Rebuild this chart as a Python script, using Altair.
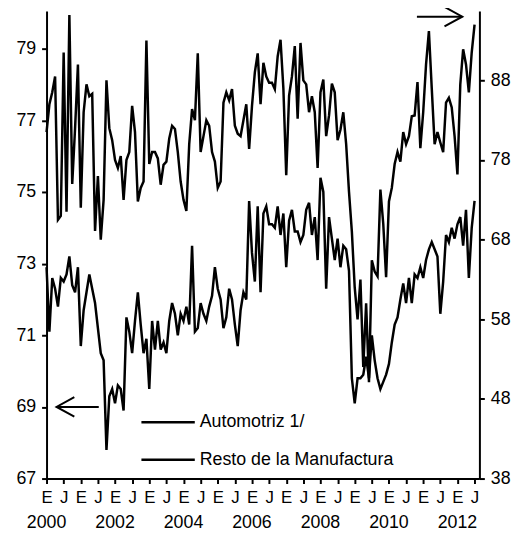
import altair as alt
import pandas as pd

FONT = "Liberation Sans"

# Monthly series, Jan 2000 (index 0) .. Jul 2012 (index 150)
resto = [
    72.9, 71.1, 72.6, 72.3, 71.8, 72.6, 72.5, 72.7, 73.2, 72.4, 72.2, 72.9,
    70.7, 71.7, 72.2, 72.7, 72.3, 71.9, 71.2, 70.5, 70.3, 67.8, 69.3, 69.5,
    69.1, 69.6, 69.5, 68.9, 71.5, 71.1, 70.5, 71.4, 72.2, 71.3, 70.5, 70.9,
    69.5, 71.4, 70.6, 71.4, 70.6, 70.8, 70.5, 71.4, 71.9, 71.6, 71.0, 71.6,
    71.4, 71.8, 71.3, 73.5, 71.1, 71.2, 71.9, 71.6, 71.4, 71.8, 72.1, 72.9,
    72.3, 72.0, 71.2, 71.5, 72.3, 72.0, 71.3, 70.7, 71.7, 72.2, 72.0, 74.75,
    73.3, 72.5, 74.6, 72.2, 74.4, 74.6, 74.1, 74.1, 74.0, 74.6, 73.8, 74.4,
    72.9, 74.2, 74.5, 73.9, 73.9, 73.6, 73.8, 74.5, 74.7, 73.8, 74.3, 73.1,
    75.4, 75.0, 72.3, 74.3, 73.7, 73.1, 73.7, 72.9, 73.5, 73.4, 72.8, 69.8,
    69.1, 69.8, 69.8, 69.9, 70.4, 69.8, 71.0, 70.3, 69.8, 69.5, 69.7, 69.9,
    70.2, 70.8, 71.3, 71.5, 72.0, 72.45, 71.9, 72.6, 71.9, 72.7, 72.6, 72.9,
    72.6, 73.1, 73.4, 73.6, 73.4, 73.2, 71.6, 72.5, 73.8, 73.6, 74.0, 73.7,
    74.1, 74.3, 73.5, 74.5, 72.6, 74.0, 74.75,
]

automotriz = [
    81.5, 85.0, 86.5, 88.5, 70.5, 71.0, 91.5, 71.5, 96.2, 75.0, 82.0, 90.0,
    72.0, 84.0, 87.5, 86.0, 86.3, 69.1, 76.0, 68.0, 73.0, 88.0, 82.0, 80.5,
    78.0, 77.0, 78.5, 73.0, 78.0, 79.0, 84.8, 81.5, 72.8, 74.5, 75.3, 93.0,
    77.5, 79.0, 79.0, 78.2, 74.9, 77.4, 77.8, 80.7, 82.3, 81.9, 79.0, 75.3,
    73.0, 71.6, 80.0, 84.4, 83.0, 91.4, 79.0, 81.0, 83.0, 82.3, 79.0, 77.8,
    74.5, 75.3, 85.2, 86.5, 85.5, 86.9, 82.3, 81.3, 81.0, 83.0, 85.0, 79.4,
    84.8, 89.0, 91.4, 85.0, 90.2, 88.5, 87.7, 87.7, 86.9, 91.0, 93.1, 87.0,
    76.1, 86.1, 88.5, 92.3, 83.2, 92.7, 88.0, 87.5, 84.0, 86.0, 84.0, 77.0,
    86.5, 88.1, 81.0, 83.6, 87.6, 86.5, 80.5, 81.8, 84.0, 80.0, 74.0, 69.0,
    62.0, 58.0, 63.0, 52.0, 60.0, 50.1, 65.4, 64.0, 63.4, 74.3, 70.0, 63.3,
    72.8, 74.5, 77.5, 79.0, 77.8, 81.5, 80.0, 81.0, 83.5, 83.6, 87.8, 79.5,
    84.0, 90.0, 94.2, 87.0, 80.0, 81.5, 80.2, 79.0, 85.2, 85.8, 84.6, 81.0,
    76.2, 87.5, 91.9, 90.0, 86.5, 91.5, 95.0,
]

years = [2000, 2002, 2004, 2006, 2008, 2010, 2012]
left_ticks = [67, 69, 71, 73, 75, 77, 79]
right_ticks = [38, 48, 58, 68, 78, 88]
month_ticks = list(range(0, 151, 6))
legend_labels = ["Automotriz 1/", "Resto de la Manufactura"]

df_resto = pd.DataFrame({"m": list(range(len(resto))), "v": resto})
df_auto = pd.DataFrame({"m": list(range(len(automotriz))), "r": automotriz})
df_years = pd.DataFrame({"m": [(y - 2000) * 12 for y in years], "label": [str(y) for y in years]})
df_left_arrow = pd.DataFrame({"m": [3.5], "m2": [18.3], "v": [69.0]})
df_right_arrow = pd.DataFrame({"m": [145.7], "m2": [129.8], "r": [96.0]})
df_legend = pd.DataFrame({"label": legend_labels, "yp": [416, 454]})

xscale = alt.Scale(domain=[0, 151.7], nice=False, zero=False)
xaxis = alt.Axis(
    orient="bottom", values=month_ticks, labelExpr="datum.value % 12 == 0 ? 'E' : 'J'",
    title=None, grid=False, domainColor="black", domainWidth=2, tickColor="black",
    tickWidth=2, tickSize=5, labelFont=FONT, labelFontSize=17, labelColor="black",
    labelPadding=6, labelOverlap=False, labelFlush=False,
)
lscale = alt.Scale(domain=[67, 80.05], nice=False, zero=False)
laxis = alt.Axis(
    orient="left", values=left_ticks, title=None, grid=False, domainColor="black",
    domainWidth=2, tickColor="black", tickWidth=2, tickSize=5, labelFont=FONT,
    labelFontSize=18, labelColor="black", labelPadding=6,
)
rscale = alt.Scale(domain=[38, 96.7], nice=False, zero=False)
raxis = alt.Axis(
    orient="right", values=right_ticks, title=None, grid=False, domainColor="black",
    domainWidth=2, tickColor="black", tickWidth=2, tickSize=5, labelFont=FONT,
    labelFontSize=18, labelColor="black", labelPadding=6,
)

X = alt.X("m:Q", scale=xscale, axis=xaxis)
YL = alt.Y("v:Q", scale=lscale, axis=laxis)
YR = alt.Y("r:Q", scale=rscale, axis=raxis)

LW = 2.5

resto_line = alt.Chart(df_resto).mark_line(color="black", strokeWidth=LW).encode(x=X, y=YL)
left_shaft = alt.Chart(df_left_arrow).mark_rule(color="black", strokeWidth=2).encode(
    x=X, x2="m2:Q", y=YL)
left_head = alt.Chart(df_left_arrow).mark_point(
    shape="M 2 -1.1 L 0 0 L 2 1.1", size=324, filled=False, color="black", strokeWidth=2,
    opacity=1).encode(x=X, y=YL)

auto_line = alt.Chart(df_auto).mark_line(color="black", strokeWidth=LW).encode(x=X, y=YR)
right_shaft = alt.Chart(df_right_arrow).mark_rule(color="black", strokeWidth=2).encode(
    x=X, x2="m2:Q", y=YR)
right_head = alt.Chart(df_right_arrow).mark_point(
    shape="M -2 -1.1 L 0 0 L -2 1.1", size=324, filled=False, color="black", strokeWidth=2,
    opacity=1).encode(x=X, y=YR)

year_text = alt.Chart(df_years).mark_text(
    font=FONT, fontSize=18, color="black", align="center", baseline="middle").encode(
    x=X, y=alt.value(518), text="label:N")

legend_rules = alt.Chart(df_legend).mark_rule(color="black", strokeWidth=LW).encode(
    x=alt.value(96), x2=alt.value(150), y=alt.Y("yp:Q", scale=None))
legend_text = alt.Chart(df_legend).mark_text(
    font=FONT, fontSize=18, color="black", align="left", baseline="middle").encode(
    x=alt.value(155), y=alt.Y("yp:Q", scale=None), text="label:N")

left = alt.layer(resto_line, left_shaft, left_head)
right = alt.layer(auto_line, right_shaft, right_head)
deco = alt.layer(year_text, legend_rules, legend_text)

chart = alt.layer(left, right, deco).resolve_scale(y="independent").properties(
    width=438, height=473,
    autosize=alt.AutoSizeParams(type="none"),
    padding={"left": 39, "top": 0, "right": 35, "bottom": 57},
    background="white",
).configure_view(stroke=None)

chart.save("out.html", embed_options={"renderer": "svg", "actions": False})
